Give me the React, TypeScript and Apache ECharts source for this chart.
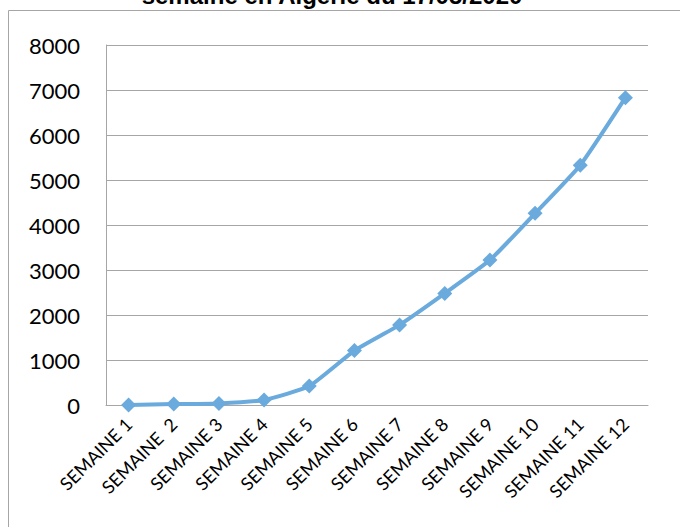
import React, { useEffect, useRef } from "react";
import * as echarts from "echarts";

// Weekly cumulative confirmed cases
const weeks = [
  "SEMAINE 1",
  "SEMAINE  2",
  "SEMAINE 3",
  "SEMAINE 4",
  "SEMAINE 5",
  "SEMAINE 6",
  "SEMAINE 7",
  "SEMAINE 8",
  "SEMAINE 9",
  "SEMAINE 10",
  "SEMAINE 11",
  "SEMAINE 12",
];
const cases = [1, 20, 35, 110, 420, 1210, 1780, 2480, 3220, 4260, 5330, 6830];
const titleText = "semaine en Algérie du 17/05/2020";

const W = 680;
const H = 527;

export default function App() {
  const ref = useRef<HTMLDivElement>(null);

  useEffect(() => {
    if (!ref.current) return;
    const chart = echarts.init(ref.current, undefined, { renderer: "svg" });
    chart.setOption({
      animation: false,
      backgroundColor: "#ffffff",
      graphic: [
        {
          type: "line",
          shape: { x1: 8.5, y1: 10.5, x2: W, y2: 10.5 },
          style: { stroke: "#a6a6a6", lineWidth: 1 },
          z: 0,
        },
        {
          type: "line",
          shape: { x1: 8.5, y1: 10.5, x2: 8.5, y2: H },
          style: { stroke: "#a6a6a6", lineWidth: 1 },
          z: 0,
        },
        {
          type: "text",
          x: 332,
          y: 7,
          style: {
            text: titleText,
            fill: "#000000",
            font: "bold 24px 'Liberation Sans', Arial, sans-serif",
            textAlign: "center",
            textVerticalAlign: "bottom",
          },
        },
      ],
      grid: { left: 106, right: 32, top: 45, bottom: 122, containLabel: false },
      xAxis: {
        type: "category",
        data: weeks,
        boundaryGap: true,
        axisLine: { show: true, lineStyle: { color: "#a6a6a6", width: 1 } },
        axisTick: { show: false },
        axisLabel: {
          interval: 0,
          rotate: 45,
          margin: 16,
          color: "#000000",
          fontFamily: "Lato, 'Open Sans', sans-serif",
          fontSize: 18,
        },
      },
      yAxis: {
        type: "value",
        min: 0,
        max: 8000,
        interval: 1000,
        axisLine: { show: true, lineStyle: { color: "#a6a6a6", width: 1 } },
        axisTick: { show: false },
        splitLine: { show: true, lineStyle: { color: "#a6a6a6", width: 1 } },
        axisLabel: {
          margin: 26,
          color: "#000000",
          fontFamily: "Lato, 'Open Sans', sans-serif",
          fontSize: 22,
          formatter: (v: number) => String(v),
        },
      },
      series: [
        {
          type: "line",
          data: cases,
          symbol: "diamond",
          symbolSize: 15,
          lineStyle: { color: "#6aaadd", width: 4 },
          itemStyle: { color: "#6aaadd" },
          smooth: 0.15,
        },
      ],
    });
    return () => chart.dispose();
  }, []);

  return (
    <div
      ref={ref}
      style={{ position: "absolute", left: 0, top: 0, width: W, height: H }}
    />
  );
}
